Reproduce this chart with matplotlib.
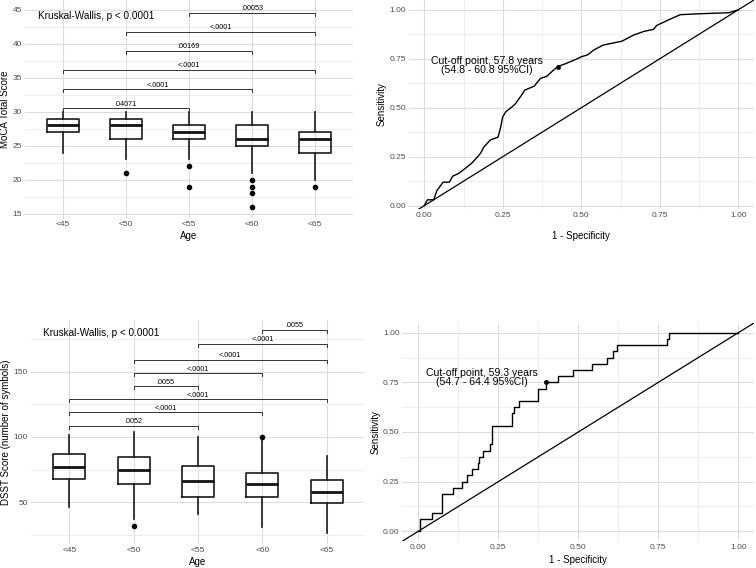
import matplotlib
matplotlib.use('Agg')
import matplotlib.pyplot as plt
from matplotlib.ticker import MultipleLocator

plt.rcParams['font.family'] = ['Liberation Sans', 'DejaVu Sans']

# Age groups
groups = ['<45', '<50', '<55', '<60', '<65']

# MoCA total score box stats
moca_med = [28, 28, 27, 26, 26]
moca_q1 = [27, 26, 26, 25, 24]
moca_q3 = [29, 29, 28, 28, 27]
moca_lo = [24, 23, 23, 21, 20]
moca_hi = [30, 30, 30, 30, 30]
moca_out = [[], [21], [22, 19], [20, 19, 18, 16], [19]]

# pairwise comparisons: (group a, group b, height, p label)
moca_pairs = [(0, 2, 30.5, '.04071'), (0, 3, 33.3, '<.0001'), (0, 4, 36.1, '<.0001'),
              (1, 3, 38.9, '.00169'), (1, 4, 41.7, '<.0001'), (2, 4, 44.5, '.00053')]

# DSST score box stats
dsst_med = [77.3, 74.8, 66.1, 64.0, 58.1]
dsst_q1 = [67.9, 63.8, 53.9, 53.9, 49.5]
dsst_q3 = [86.7, 84.5, 77.8, 72.2, 66.8]
dsst_lo = [46.7, 37.3, 40.8, 30.9, 26.8]
dsst_hi = [101.5, 104, 100.2, 98, 85.7]
dsst_out = [[], [31.7], [], [100.2], []]

dsst_pairs = [(0, 2, 108.7, '.0052'), (0, 3, 118.9, '<.0001'), (0, 4, 128.8, '<.0001'),
              (1, 2, 138.8, '.0055'), (1, 3, 148.7, '<.0001'), (1, 4, 159.2, '<.0001'),
              (2, 4, 171.2, '<.0001'), (3, 4, 181.9, '.0055')]

# ROC curves
roc1_fpr = [0, 0.01, 0.03, 0.04, 0.06, 0.08, 0.09, 0.11, 0.13, 0.15, 0.17, 0.18, 0.19, 0.21,
            0.235, 0.243, 0.25, 0.26, 0.28, 0.29, 0.31, 0.32, 0.35, 0.37, 0.39, 0.41, 0.425,
            0.45, 0.48, 0.50, 0.52, 0.54, 0.57, 0.60, 0.63, 0.665, 0.70, 0.73, 0.74, 0.78,
            0.815, 0.88, 0.97, 1.0]
roc1_tpr = [0, 0.03, 0.03, 0.077, 0.12, 0.12, 0.15, 0.165, 0.19, 0.215, 0.25, 0.27, 0.30, 0.335,
            0.35, 0.40, 0.455, 0.48, 0.505, 0.52, 0.565, 0.59, 0.61, 0.65, 0.66, 0.69, 0.71,
            0.725, 0.745, 0.76, 0.77, 0.795, 0.82, 0.83, 0.84, 0.87, 0.89, 0.90, 0.92, 0.95,
            0.975, 0.98, 0.985, 1.0]
cut1 = (0.425, 0.71)
cut1_label = 'Cut-off point, 57.8 years\n(54.8 - 60.8 95%CI)'

roc2_fpr = [0, 0.004, 0.042, 0.075, 0.109, 0.135, 0.151, 0.167, 0.185, 0.19, 0.203, 0.224, 0.229,
            0.292, 0.299, 0.316, 0.375, 0.398, 0.435, 0.484, 0.544, 0.589, 0.607, 0.62, 0.778,
            0.784, 1.0]
roc2_tpr = [0, 0.0625, 0.094, 0.1875, 0.219, 0.25, 0.281, 0.3125, 0.344, 0.375, 0.406, 0.4375,
            0.531, 0.594, 0.625, 0.656, 0.719, 0.75, 0.781, 0.8125, 0.844, 0.875, 0.906, 0.9375,
            0.969, 1.0, 1.0]
cut2 = (0.398, 0.75)
cut2_label = 'Cut-off point, 59.3 years\n(54.7 - 64.4 95%CI)'

W, H = 756, 568
fig = plt.figure(figsize=(W / 100, H / 100), dpi=100)


def px_axes(x0, y0, x1, y1):
    return fig.add_axes([x0 / W, 1 - y1 / H, (x1 - x0) / W, (y1 - y0) / H])


def minimal(ax, minor_x=None, minor_y=None):
    for s in ax.spines.values():
        s.set_visible(False)
    ax.set_axisbelow(True)
    ax.tick_params(which='both', length=0, labelsize=6, labelcolor='#4d4d4d', pad=2)
    if minor_x:
        ax.xaxis.set_minor_locator(MultipleLocator(minor_x))
    if minor_y:
        ax.yaxis.set_minor_locator(MultipleLocator(minor_y))
    ax.grid(which='major', color='#dcdcdc', lw=0.8)
    ax.grid(which='minor', color='#ebebeb', lw=0.6)


def box_panel(ax, med, q1, q3, lo, hi, out, pairs, tip, ylabel):
    stats = []
    for i in range(len(groups)):
        stats.append(dict(med=med[i], q1=q1[i], q3=q3[i], whislo=lo[i], whishi=hi[i],
                          fliers=out[i], label=groups[i]))
    ax.bxp(stats, positions=range(len(groups)), widths=0.5, showcaps=False,
           boxprops=dict(color='#1a1a1a', lw=1.2),
           whiskerprops=dict(color='#1a1a1a', lw=1.2),
           medianprops=dict(color='#111111', lw=2.0),
           flierprops=dict(marker='o', markersize=3, markerfacecolor='black',
                           markeredgecolor='black'))
    for a, b, y, lab in pairs:
        ax.plot([a, a, b, b], [y - tip, y, y, y - tip], color='#333333', lw=0.7)
        ax.annotate(lab, ((a + b) / 2, y), xytext=(0, 0.5), textcoords='offset points',
                    ha='center', va='bottom', fontsize=5.2)
    ax.set_xlim(-0.6, len(groups) - 0.4)
    ax.set_xticks(range(len(groups)))
    ax.set_xticklabels(groups)
    ax.set_xlabel('Age', fontsize=7, labelpad=2)
    ax.set_ylabel(ylabel, fontsize=7, labelpad=2)


def roc_panel(ax, fpr, tpr, cut, label, text_xy, ymin, steps):
    ax.axline((0, 0), (1, 1), color='black', lw=0.9)
    if steps:
        ax.plot(fpr, tpr, color='black', lw=1.0, drawstyle='steps-post')
    else:
        ax.plot(fpr, tpr, color='black', lw=1.0)
    ax.plot([cut[0]], [cut[1]], 'o', color='black', markersize=2.5)
    ax.text(text_xy[0], text_xy[1], label, ha='center', va='center', fontsize=7.6,
            linespacing=0.85)
    ax.set_xlim(-0.05, 1.05)
    ax.set_ylim(ymin, 1.05)
    ticks = [0, 0.25, 0.5, 0.75, 1.0]
    ax.set_xticks(ticks)
    ax.set_yticks(ticks)
    ax.set_xticklabels(['%.2f' % t for t in ticks])
    ax.set_yticklabels(['%.2f' % t for t in ticks])
    ax.set_xlabel('1 - Specificity', fontsize=7, labelpad=2)
    ax.set_ylabel('Sensitivity', fontsize=7, labelpad=2)


# top left: MoCA by age
ax1 = px_axes(25, 0, 353, 218)
box_panel(ax1, moca_med, moca_q1, moca_q3, moca_lo, moca_hi, moca_out, moca_pairs, 0.45,
          'MoCA Total Score')
ax1.set_ylim(14.4, 46.4)
ax1.set_yticks([15, 20, 25, 30, 35, 40, 45])
ax1.text(-0.4, 44.0, 'Kruskal-Wallis, p < 0.0001', fontsize=7.2, ha='left', va='center')
minimal(ax1, minor_y=2.5)
ax1.grid(which='minor', axis='x', visible=False)

# top right: ROC for MoCA
ax2 = px_axes(408.6, 0, 754, 209)
roc_panel(ax2, roc1_fpr, roc1_tpr, cut1, cut1_label, (0.20, 0.717), -0.017, False)
ax2.xaxis.labelpad = 8.5
minimal(ax2, minor_x=0.125, minor_y=0.125)

# bottom left: DSST by age
ax3 = px_axes(30.7, 320, 365.3, 544)
box_panel(ax3, dsst_med, dsst_q1, dsst_q3, dsst_lo, dsst_hi, dsst_out, dsst_pairs, 2.3,
          'DSST Score (number of symbols)')
ax3.set_ylim(18.1, 189.5)
ax3.set_yticks([50, 100, 150])
ax3.text(-0.41, 179.8, 'Kruskal-Wallis, p < 0.0001', fontsize=7.2, ha='left', va='center')
minimal(ax3, minor_y=25)
ax3.grid(which='minor', axis='x', visible=False)

# bottom right: ROC for DSST
ax4 = px_axes(402.3, 322.8, 754.3, 541.2)
roc_panel(ax4, roc2_fpr, roc2_tpr, cut2, cut2_label, (0.20, 0.775), -0.05, True)
ax4.xaxis.labelpad = 3
minimal(ax4, minor_x=0.125, minor_y=0.125)

fig.savefig('out.png', dpi=100)
